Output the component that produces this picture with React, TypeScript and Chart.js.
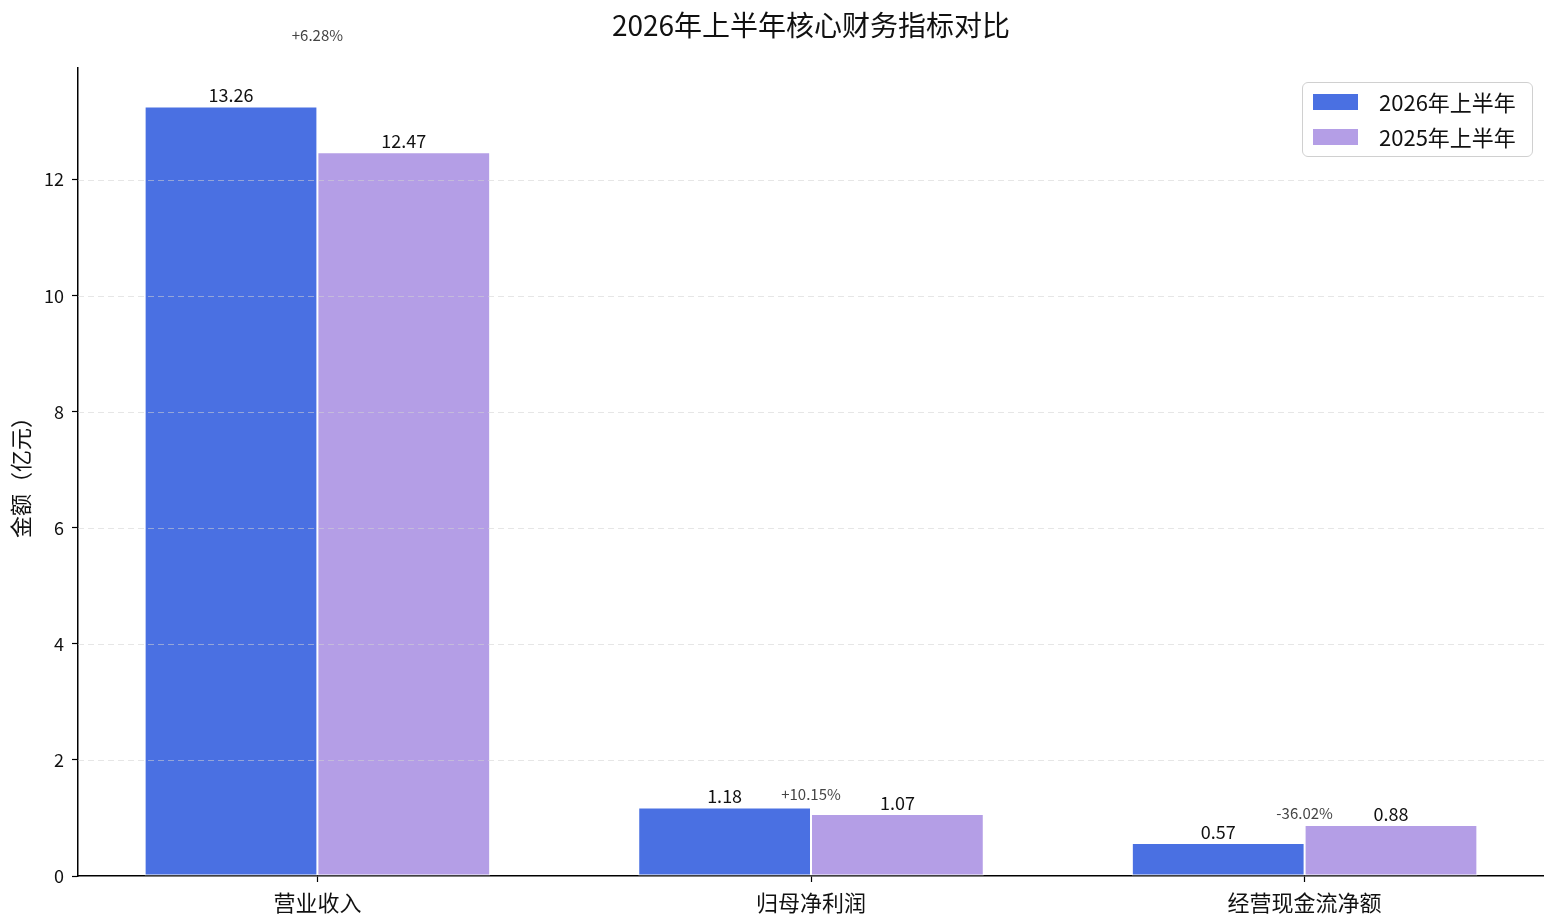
import React, {useEffect, useRef} from "react";
import {Chart, registerables} from 'chart.js';

Chart.register(...registerables)

const categories = ["营业收入", "归母净利润", "经营现金流净额"]
const seriesNames = ["2026年上半年", "2025年上半年"]
const values2026 = [13.26, 1.18, 0.57]
const values2025 = [12.47, 1.07, 0.88]
const changeLabels = ["+6.28%", "+10.15%", "-36.02%"]
const yTicks = [0, 2, 4, 6, 8, 10, 12]

const FONT = "'Noto Sans CJK SC', 'Noto Sans', sans-serif"
const BLUE = "rgb(74,112,226)"
const PURPLE = "rgb(180,158,230)"

const App = () => {
    const canvasRef = useRef<HTMLCanvasElement>(null)

    useEffect(() => {
        document.body.style.margin = "0"
        const ctx = canvasRef.current!.getContext('2d') as CanvasRenderingContext2D

        const topValue = Math.max(...values2026, ...values2025) * 1.05

        const overlay = {
            id: 'overlay',
            afterDatasetsDraw(chart: any) {
                const c = chart.ctx
                const area = chart.chartArea
                const y = chart.scales.y
                const x = chart.scales.x
                c.save()
                // dashed grid over the bars
                c.strokeStyle = "rgba(210,210,210,0.55)"
                c.lineWidth = 1
                c.setLineDash([6, 4])
                yTicks.forEach(t => {
                    if (t === 0) return
                    const py = Math.round(y.getPixelForValue(t)) + 0.5
                    c.beginPath()
                    c.moveTo(area.left, py)
                    c.lineTo(area.right, py)
                    c.stroke()
                })
                c.setLineDash([])

                // value labels
                c.fillStyle = "#111"
                c.font = `18px ${FONT}`
                c.textAlign = "center"
                c.textBaseline = "bottom"
                chart.data.datasets.forEach((ds: any, di: number) => {
                    const meta = chart.getDatasetMeta(di)
                    meta.data.forEach((bar: any, i: number) => {
                        c.fillText(ds.data[i].y.toFixed(2), bar.x, bar.y - 2)
                    })
                })

                // change labels
                c.fillStyle = "#444"
                c.font = `15px ${FONT}`
                categories.forEach((_, i) => {
                    const m = Math.max(values2026[i], values2025[i])
                    c.fillText(changeLabels[i], x.getPixelForValue(i), y.getPixelForValue(m * 1.083))
                })

                // title
                c.fillStyle = "#111"
                c.font = `28px ${FONT}`
                c.textBaseline = "middle"
                c.fillText("2026年上半年核心财务指标对比", (area.left + area.right) / 2, 25)
                c.restore()
            }
        }

        const config: any = {
            type: "bar",
            data: {
                datasets: [
                    {
                        label: seriesNames[0],
                        data: values2026.map((v, i) => ({x: i, y: v})),
                        backgroundColor: BLUE,
                        borderColor: "#ffffff",
                        borderWidth: 1,
                        borderSkipped: false,
                    },
                    {
                        label: seriesNames[1],
                        data: values2025.map((v, i) => ({x: i, y: v})),
                        backgroundColor: PURPLE,
                        borderColor: "#ffffff",
                        borderWidth: 1,
                        borderSkipped: false,
                    },
                ],
            },
            options: {
                animation: false,
                responsive: true,
                maintainAspectRatio: false,
                categoryPercentage: 0.7,
                barPercentage: 1,
                layout: {padding: {top: 68, right: 0, left: 0, bottom: 0}},
                plugins: {
                    legend: {display: false},
                    tooltip: {enabled: false},
                },
                scales: {
                    x: {
                        type: "linear",
                        min: -0.485,
                        max: 2.485,
                        offset: false,
                        afterBuildTicks: (s: any) => { s.ticks = categories.map((_, i) => ({value: i})) },
                        afterFit: (s: any) => { s.height = 45 },
                        grid: {offset: false, drawOnChartArea: false, tickLength: 6, tickColor: "#000", tickWidth: 1.2},
                        border: {color: "#000", width: 1.5},
                        ticks: {
                            padding: 7,
                            color: "#111",
                            font: {family: FONT, size: 22},
                            maxRotation: 0,
                            autoSkip: false,
                            callback: (v: number) => categories[v] ?? "",
                        },
                    },
                    y: {
                        min: 0,
                        max: topValue,
                        afterBuildTicks: (s: any) => { s.ticks = yTicks.map(v => ({value: v})) },
                        afterFit: (s: any) => { s.width = 78 },
                        grid: {drawOnChartArea: false, tickLength: 6, tickColor: "#000", tickWidth: 1.2},
                        border: {color: "#000", width: 1.5},
                        ticks: {
                            padding: 8,
                            color: "#111",
                            font: {family: FONT, size: 18},
                        },
                        title: {
                            display: true,
                            text: "金额（亿元）",
                            color: "#111",
                            font: {family: FONT, size: 22},
                            padding: {top: 7, bottom: 0},
                        },
                    },
                },
            },
            plugins: [overlay],
        }

        const chart = new Chart(ctx, config)
        return () => { chart.destroy() }
    }, [])

    return (
        <div style={{position: "relative", width: "1544px", height: "921px", background: "#fff"}}>
            <canvas ref={canvasRef}></canvas>
            <div style={{
                position: "absolute", left: "1302px", top: "82px", width: "229px", height: "73px",
                border: "1.5px solid #d0d0d0", borderRadius: "6px", background: "rgba(255,255,255,0.8)",
                fontFamily: FONT, fontSize: "22px", color: "#111",
            }}>
                {seriesNames.map((name, i) => (
                    <div key={name} style={{position: "absolute", left: "10px", top: i === 0 ? "3px" : "38px", height: "30px", display: "flex", alignItems: "center"}}>
                        <div style={{width: "45px", height: "16px", marginTop: "2px", background: i === 0 ? BLUE : PURPLE}}></div>
                        <span style={{marginLeft: "21px", lineHeight: "30px"}}>{name}</span>
                    </div>
                ))}
            </div>
        </div>
    )
}

export default App
